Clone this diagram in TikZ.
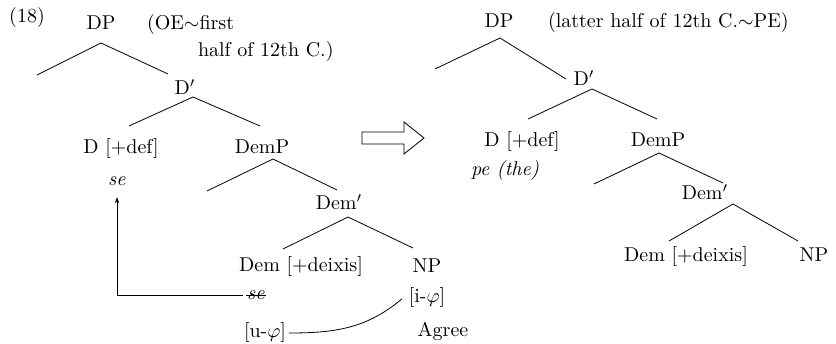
\documentclass[tikz,border=0pt]{standalone}
\usetikzlibrary{arrows.meta}
\newcommand\bigtxt[1]{\scalebox{2}{#1}}
\begin{document}
\begin{tikzpicture}[x=1pt,y=-1pt,
  lbl/.style={inner sep=0pt, outer sep=0pt, anchor=base, font=\fontsize{10}{12}\selectfont},
  lblw/.style={lbl, anchor=base west},
  branch/.style={line width=0.8pt},
  bigarrow/.style={line width=0.8pt, fill=white}]
\useasboundingbox (0,0) rectangle (836,344);

% ---------- left tree ----------
\node[lbl] (num) at (27,23) {\bigtxt{(18)}};
\node[lbl] (LDP) at (101,30) {\bigtxt{DP}};
\node[lblw] (Lnote1) at (147,30) {\bigtxt{(OE$\sim$first}};
\node[lblw] (Lnote2) at (198,57) {\bigtxt{half of 12th C.)}};
\node[lbl] (LDbar) at (185,95) {\bigtxt{D$'$}};
\node[lbl] (LD) at (121,154) {\bigtxt{D [+def]}};
\node[lbl] (LDemP) at (262,154) {\bigtxt{DemP}};
\node[lbl] (setop) at (117,186) {\bigtxt{\textit{se}}};
\node[lbl] (LDembar) at (339,210) {\bigtxt{Dem$'$}};
\node[lbl] (LDem) at (301,272) {\bigtxt{Dem [+deixis]}};
\node[lbl] (LNP) at (427,273) {\bigtxt{NP}};
\node[lbl] (iphi) at (427,303) {\bigtxt{[i-$\varphi$]}};
\node[lbl] (ss) at (256,300) {\bigtxt{\textit{se}}};
\node[lbl] (uphi) at (265,338) {\bigtxt{[u-$\varphi$]}};
\node[lbl] (agree) at (443,337) {\bigtxt{Agree}};

\coordinate (a1) at (101,43);  \coordinate (a1l) at (37,75);   \coordinate (a1r) at (168,74);
\coordinate (a2) at (193,97);  \coordinate (a2l) at (129,126); \coordinate (a2r) at (260,126);
\coordinate (a3) at (273,159); \coordinate (a3l) at (207,191); \coordinate (a3r) at (337,190);
\coordinate (a4) at (348,217); \coordinate (a4l) at (283,249); \coordinate (a4r) at (413,248);
\draw[branch] (a1l) -- (a1) -- (a1r);
\draw[branch] (a2l) -- (a2) -- (a2r);
\draw[branch] (a3l) -- (a3) -- (a3r);
\draw[branch] (a4l) -- (a4) -- (a4r);

% strike-out se and movement arrow
\draw[line width=0.6pt] ([xshift=-1pt,yshift=4.5pt]ss.base west) -- ([xshift=1pt,yshift=4.5pt]ss.base east);
\draw[line width=0.8pt,-{Stealth[length=6pt,width=4.5pt]}]
  ([xshift=-4pt]ss.west) -| ([yshift=-11pt]setop.south);

% Agree curve
\draw[line width=0.8pt] ([xshift=3pt]uphi.east) to[out=0,in=-140] ([xshift=-7pt,yshift=-1pt]iphi.west);

% ---------- big hollow arrow ----------
\draw[bigarrow] (362,132) -- (404,132) -- (404,122) -- (424,138) -- (404,154) -- (404,144) -- (362,144) -- cycle;

% ---------- right tree ----------
\node[lbl] (RDP) at (499,28) {\bigtxt{DP}};
\node[lblw] (Rnote) at (548,28) {\bigtxt{(latter half of 12th C.$\sim$PE)}};
\node[lbl] (RDbar) at (584,86) {\bigtxt{D$'$}};
\node[lbl] (RD) at (522,147) {\bigtxt{D [+def]}};
\node[lbl] (RDemP) at (658,147) {\bigtxt{DemP}};
\node[lbl] (the) at (505,176) {\bigtxt{\textit{pe (the)}}};
\node[lbl] (RDembar) at (705,200) {\bigtxt{Dem$'$}};
\node[lbl] (RDem) at (686,262) {\bigtxt{Dem [+deixis]}};
\node[lbl] (RNP) at (814,262) {\bigtxt{NP}};

\coordinate (b1) at (500,38);  \coordinate (b1l) at (435,69);  \coordinate (b1r) at (566,79);
\coordinate (b2) at (592,89);  \coordinate (b2l) at (528,119); \coordinate (b2r) at (657,119);
\coordinate (b3) at (659,153); \coordinate (b3l) at (594,184); \coordinate (b3r) at (723,183);
\coordinate (b4) at (733,204); \coordinate (b4l) at (669,241); \coordinate (b4r) at (798,241);
\draw[branch] (b1l) -- (b1) -- (b1r);
\draw[branch] (b2l) -- (b2) -- (b2r);
\draw[branch] (b3l) -- (b3) -- (b3r);
\draw[branch] (b4l) -- (b4) -- (b4r);
\end{tikzpicture}
\end{document}
